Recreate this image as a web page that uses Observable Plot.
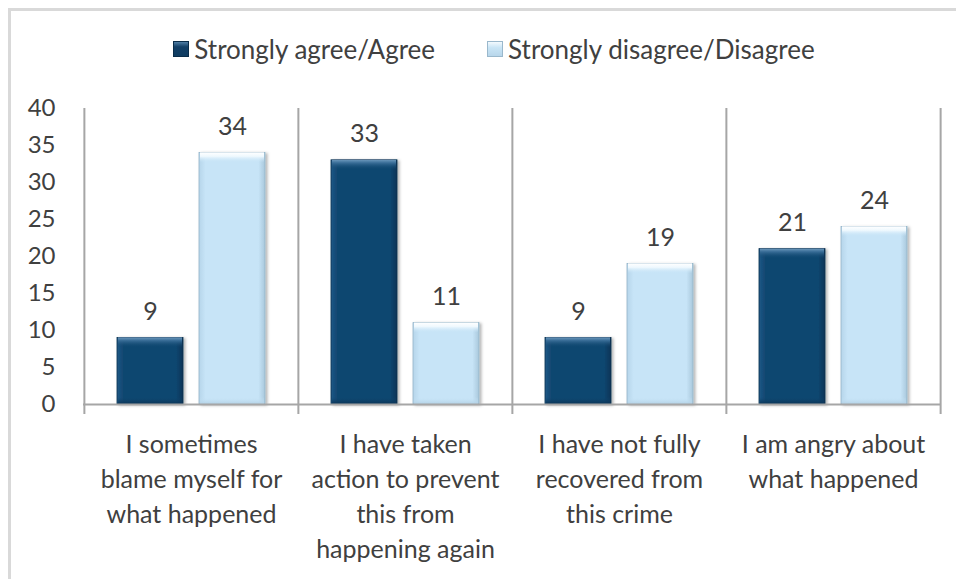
<!DOCTYPE html>
<html>
<head>
<meta charset="utf-8">
<script src="https://cdn.jsdelivr.net/npm/d3@7"></script>
<script src="https://cdn.jsdelivr.net/npm/@observablehq/plot@0.6"></script>
<style>
  html, body { margin: 0; padding: 0; background: #ffffff; overflow: hidden; }
  body { width: 956px; height: 579px; position: relative; font-family: Lato, "Open Sans", sans-serif; }
  #frame { position: absolute; left: 8px; top: 8px; width: 980px; height: 600px;
           border-left: 3px solid #d9d9d9; border-top: 3px solid #d9d9d9; pointer-events: none; }
  #legend { height: 80px; box-sizing: border-box; padding-top: 34px; padding-left: 32px;
            display: flex; justify-content: center; align-items: flex-start; gap: 52px;
            font-size: 26px; line-height: 30px; color: #404040; }
  .item { display: flex; align-items: center; gap: 5px; }
  .sw { width: 16px; height: 16px; box-sizing: border-box; }
  #chart svg { display: block; }
</style>
</head>
<body>
<div id="frame"></div>
<div id="legend"></div>
<div id="chart"></div>
<script>
// ---- data ----
const categories = [
  "I sometimes blame myself for what happened",
  "I have taken action to prevent this from happening again",
  "I have not fully recovered from this crime",
  "I am angry about what happened"
];
const categoryLabels = [
  "I sometimes\nblame myself for\nwhat happened",
  "I have taken\naction to prevent\nthis from\nhappening again",
  "I have not fully\nrecovered from\nthis crime",
  "I am angry about\nwhat happened"
];
const seriesNames = ["Strongly agree/Agree", "Strongly disagree/Disagree"];
const agreeValues = [9, 33, 9, 21];
const disagreeValues = [34, 11, 19, 24];
const yTicks = [0, 5, 10, 15, 20, 25, 30, 35, 40];

// ---- tables built from arrays ----
const agreeRows = categories.map((c, i) => ({category: c, series: seriesNames[0], value: agreeValues[i]}));
const disagreeRows = categories.map((c, i) => ({category: c, series: seriesNames[1], value: disagreeValues[i]}));
const labelRows = categories.map((c, i) => ({category: c, label: categoryLabels[i]}));

const textColor = "#404040";
const ruleColor = "#a6a6a6";

// legend
const legend = document.getElementById("legend");
const swatchStyles = [
  "background: linear-gradient(180deg, #4f7ea5 0%, #123f66 35%, #0f3d62 100%); border: 1px solid #0a2d4a;",
  "background: linear-gradient(180deg, #f3fafe 0%, #c9e5f6 40%, #b8d6ea 100%); border: 1px solid #9ab8cc;"
];
seriesNames.forEach((name, i) => {
  const item = document.createElement("div");
  item.className = "item";
  const sw = document.createElement("div");
  sw.className = "sw";
  sw.setAttribute("style", swatchStyles[i]);
  const t = document.createElement("span");
  t.textContent = name;
  item.appendChild(sw);
  item.appendChild(t);
  legend.appendChild(item);
});

const bandHalf = (956 - 83 - 16) / 4 / 2;

const plot = Plot.plot({
  width: 956,
  height: 499,
  marginLeft: 83,
  marginRight: 16,
  marginTop: 28,
  marginBottom: 175,
  style: {fontFamily: "Lato, 'Open Sans', sans-serif", fontSize: "24px", color: textColor, background: "transparent", overflow: "visible"},
  x: {domain: categories, padding: 0, axis: null},
  y: {domain: [0, 40], ticks: yTicks, tickSize: 0, tickPadding: 28, label: null, tickFormat: d => String(d)},
  marks: [
    // category separators
    Plot.ruleX(categories, {x: d => d, y1: 40, y2: 0, dx: -bandHalf, insetBottom: -10, stroke: ruleColor, strokeWidth: 2}),
    Plot.ruleX(categories.slice(-1), {x: d => d, y1: 40, y2: 0, dx: bandHalf, insetBottom: -10, stroke: ruleColor, strokeWidth: 2}),
    // bars
    Plot.barY(agreeRows, {x: "category", y: "value", insetLeft: 33, insetRight: 115, fill: "url(#gDarkH)", stroke: "#0a2f4d", strokeWidth: 0.8}),
    Plot.barY(disagreeRows, {x: "category", y: "value", insetLeft: 115, insetRight: 33, fill: "url(#gLightH)", stroke: "#93b3c8", strokeWidth: 0.8}),
    // top bevels
    Plot.barY(agreeRows, {x: "category", y1: "value", y2: "value", insetLeft: 34, insetRight: 116, insetBottom: -10, fill: "url(#gDarkTop)"}),
    Plot.barY(disagreeRows, {x: "category", y1: "value", y2: "value", insetLeft: 116, insetRight: 34, insetBottom: -10, fill: "url(#gLightTop)"}),
    // bottom bevels
    Plot.barY(agreeRows, {x: "category", y1: 0, y2: 0, insetLeft: 34, insetRight: 116, insetTop: -7, fill: "url(#gDarkBot)"}),
    Plot.barY(disagreeRows, {x: "category", y1: 0, y2: 0, insetLeft: 116, insetRight: 34, insetTop: -7, fill: "url(#gLightBot)"}),
    // x axis line
    Plot.ruleY([0], {stroke: ruleColor, strokeWidth: 2}),
    // value labels
    Plot.text(agreeRows, {x: "category", y: "value", text: d => String(d.value), dx: -41, dy: -26, lineAnchor: "middle", fill: textColor, fontSize: 25}),
    Plot.text(disagreeRows, {x: "category", y: "value", text: d => String(d.value), dx: 41, dy: -26, lineAnchor: "middle", fill: textColor, fontSize: 25}),
    // category labels
    Plot.text(labelRows, {x: "category", y: 0, text: "label", lineAnchor: "top", dy: 24, lineHeight: 1.4, fill: textColor, fontSize: 25})
  ]
});

// gradients & shadow
const svg = d3.select(plot);
const defs = svg.insert("defs", ":first-child");
function lin(id, horizontal, stops) {
  const g = defs.append("linearGradient").attr("id", id)
    .attr("x1", 0).attr("y1", 0).attr("x2", horizontal ? 1 : 0).attr("y2", horizontal ? 0 : 1);
  stops.forEach(([o, c, op]) => g.append("stop").attr("offset", o).attr("stop-color", c).attr("stop-opacity", op == null ? 1 : op));
}
lin("gDarkH", true, [["0%", "#1d5887"], ["10%", "#10466f"], ["90%", "#10466f"], ["100%", "#0a3457"]]);
lin("gLightH", true, [["0%", "#b6d5ea"], ["10%", "#c7e4f7"], ["90%", "#c7e4f7"], ["100%", "#a9c8dc"]]);
lin("gDarkTop", false, [["0%", "#6b97bb"], ["30%", "#3a6e98"], ["100%", "#10466f", 0]]);
lin("gLightTop", false, [["0%", "#ffffff"], ["40%", "#eef8fe"], ["100%", "#c7e4f7", 0]]);
lin("gDarkBot", false, [["0%", "#10466f", 0], ["100%", "#0b3456"]]);
lin("gLightBot", false, [["0%", "#c7e4f7", 0], ["100%", "#b3d1e5"]]);
const f = defs.append("filter").attr("id", "shadow").attr("x", "-20%").attr("y", "-20%").attr("width", "140%").attr("height", "140%");
f.append("feDropShadow").attr("dx", 2).attr("dy", 1).attr("stdDeviation", 1.5).attr("flood-color", "#000").attr("flood-opacity", 0.3);
svg.selectAll('g[aria-label="bar"]').filter((d, i) => i < 2).attr("filter", "url(#shadow)");

document.getElementById("chart").appendChild(plot);
</script>
</body>
</html>
